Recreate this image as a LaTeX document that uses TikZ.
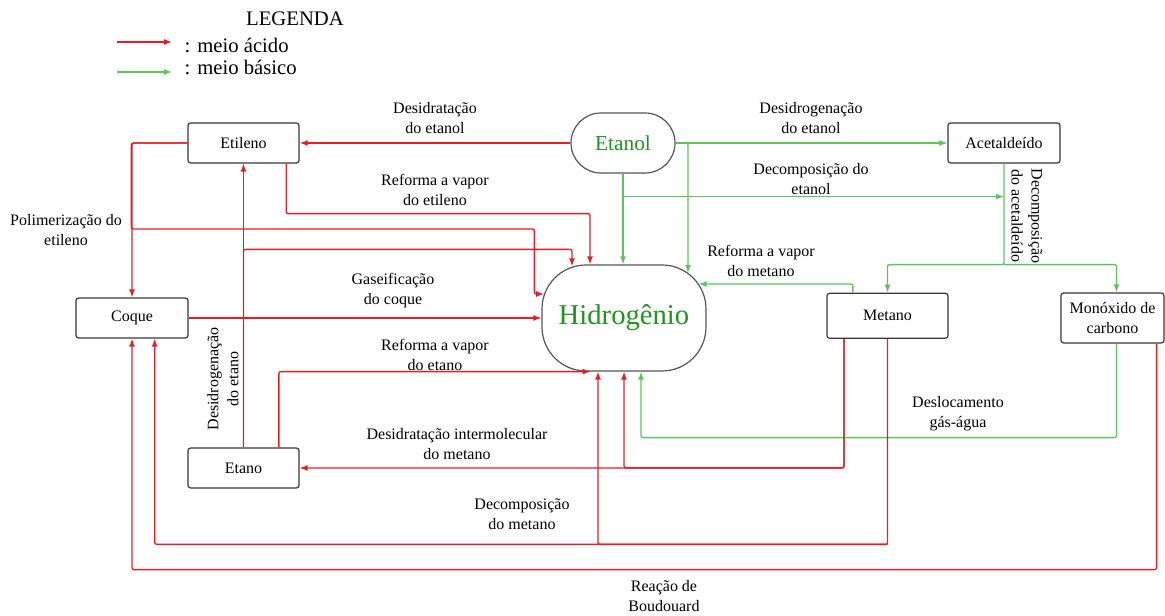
\documentclass[tikz,border=0pt]{standalone}
\usepackage{fontspec}
\setmainfont{Liberation Serif}
\usetikzlibrary{arrows.meta}
\definecolor{acido}{RGB}{228,30,36}
\definecolor{basico}{RGB}{95,195,95}
\definecolor{verde}{RGB}{30,150,30}
\definecolor{borda}{RGB}{55,55,60}
\begin{document}
\begin{tikzpicture}[x=0.75pt,y=-0.75pt,>={Latex[length=6pt,width=4.5pt]},
every node/.style={font=\fontsize{12}{15}\selectfont},
caixa/.style={draw=borda,line width=0.9pt,rounded corners=2pt,minimum width=83.25pt,minimum height=30pt,inner sep=0pt,align=center},
oval/.style={draw=borda!85,line width=0.9pt,inner sep=0pt,text=verde},
rotulo/.style={align=center,inner sep=0pt},
acid/.style={->,draw=acido,line width=1pt,rounded corners=1.5pt},
base/.style={->,draw=basico,line width=1pt,rounded corners=1.5pt}]
\useasboundingbox (0,0) rectangle (1165,616);
\def\leg{\fontsize{15.5}{18}\selectfont}
\node[font=\leg] (leg) at (295,19) {LEGENDA};
\node[anchor=west,font=\leg] (lacid) at (180,45) {: meio ácido};
\node[anchor=west,font=\leg] (lbase) at (180,67) {: meio básico};
\draw[acid] ([xshift=-47pt,yshift=2.25pt]lacid.west) -- ([xshift=-6pt,yshift=2.25pt]lacid.west);
\draw[base] ([xshift=-47pt,yshift=-3.75pt]lbase.west) -- ([xshift=-6pt,yshift=-3.75pt]lbase.west);
\node[caixa] (etileno) at (243.5,143) {Etileno};
\node[oval,rounded corners=22.5pt,minimum width=78pt,minimum height=45pt,font=\fontsize{16}{18}\selectfont] (etanol) at (623,143) {Etanol};
\node[caixa,minimum width=84pt] (acetal) at (1004,143) {Acetaldeído};
\node[caixa,minimum width=84pt] (coque) at (132,318) {Coque};
\node[oval,rounded corners=33pt,minimum width=123pt,minimum height=79.5pt,font=\fontsize{21.5}{24}\selectfont] (hidro) at (624,318) {Hidrogênio};
\node[caixa,minimum width=90.75pt,minimum height=33.75pt] (metano) at (887.5,315.75) {Metano};
\node[caixa,minimum width=77.25pt,minimum height=37.5pt] (monox) at (1112.5,318) {Monóxido de\\carbono};
\node[caixa] (etano) at (243.5,468) {Etano};
\draw[acid] (etanol.west) -- (etileno.east);
\draw[base] (etanol.east) -- (acetal.west);
\draw[base] (etanol.east) -| ([xshift=48pt,yshift=-6.4pt]hidro.north);
\draw[base] (etanol.south) -- (hidro.north -| etanol.south);
\draw[base] (etanol.south) ++(0,23) coordinate (de) -- (de -| acetal.south);
\draw[base] (acetal.south) -- ++(0,101) coordinate (bif) -| (metano.north);
\draw[base] (bif) -| ([xshift=3pt]monox.north);
\draw[base] ([xshift=-26pt]metano.north) |- ([xshift=-6pt,yshift=25.5pt]hidro.east);
\draw[base] ([xshift=3pt]monox.south) -- ++(0,94) -| ([xshift=12.75pt]hidro.south);
\draw[acid] (etileno.west) -| (coque.north);
\draw[acid] (etileno.west) -| ++(-56,86) -- ++(403,0) |- ([xshift=2pt,yshift=18pt]hidro.west);
\draw[acid] ([xshift=32pt]etileno.south) -- ++(0,50) -| ([xshift=-25.5pt]hidro.north);
\draw[acid] (etano.north) -- (etileno.south);
\draw[acid] (etano.north) -- ++(0,-198) -| ([xshift=-39pt,yshift=-1.5pt]hidro.north);
\draw[acid] (coque.east) -- (hidro.west);
\draw[acid] ([xshift=26.5pt]etano.north) |- ([xshift=-25pt]hidro.south);
\draw[acid] ([xshift=-32.6pt]metano.south) |- (etano.east);
\draw[acid] ([xshift=-32.6pt]metano.south) -- ++(0,129) -| (hidro.south);
\draw[acid] (metano.south) -- ++(0,205.5) coordinate (dm) -| ([xshift=17pt]coque.south);
\draw[acid] (dm) -| ([xshift=-19.5pt]hidro.south);
\draw[acid] ([xshift=-6pt]monox.south east) -- ++(0,226) -| (coque.south);
\node[rotulo] at (435,118) {Desidratação\\do etanol};
\node[rotulo] at (811,118) {Desidrogenação\\do etanol};
\node[rotulo] at (435,190) {Reforma a vapor\\do etileno};
\node[rotulo] at (811,179) {Decomposição do\\etanol};
\node[rotulo,rotate=-90] at (1027,216) {Decomposição\\do acetaldeído};
\node[rotulo] at (761,261) {Reforma a vapor\\do metano};
\node[rotulo] at (66,230) {Polimerização do\\etileno};
\node[rotulo] at (393,291) {Gaseificação\\do coque};
\node[rotulo,rotate=90] at (223,379) {Desidrogenação\\do etano};
\node[rotulo] at (435,355) {Reforma a vapor\\do etano};
\node[rotulo] at (457,444) {Desidratação intermolecular\\do metano};
\node[rotulo] at (958,414) {Deslocamento\\gás-água};
\node[rotulo] at (522,514) {Decomposição\\do metano};
\node[rotulo] at (664,596) {Reação de\\Boudouard};
\end{tikzpicture}
\end{document}
